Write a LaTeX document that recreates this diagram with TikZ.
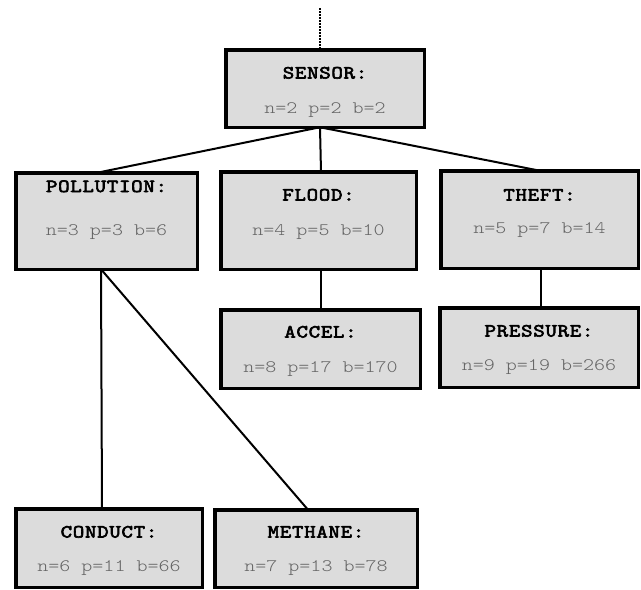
\documentclass[tikz,border=0pt]{standalone}
\usepackage{fontspec}
\newfontfamily\titlefont[FakeStretch=1.2,FakeBold=3.5,LetterSpace=4]{Latin Modern Mono}
\newfontfamily\statfont[FakeStretch=1.2]{Latin Modern Mono Light}
\definecolor{boxgray}{RGB}{220,220,220}
\definecolor{statgray}{RGB}{100,100,100}
\begin{document}
\begin{tikzpicture}[x=1pt,y=-1pt,
  box/.style={draw=black, line width=3.5pt, fill=boxgray, inner sep=0pt, outer sep=0pt},
  ttl/.style={font=\titlefont\fontsize{18.5}{19}\selectfont, anchor=base, inner sep=0pt},
  stat/.style={font=\statfont\fontsize{17.5}{18}\selectfont, text=statgray, anchor=base, inner sep=0pt},
  conn/.style={line width=2pt, black}]
\useasboundingbox (0,0) rectangle (641,590);
% boxes
\node[box, minimum width=198.5pt, minimum height=77.5pt] (sensor) at (325,88.5) {};
\node[box, minimum width=181.5pt, minimum height=96.5pt] (pollution) at (106.5,221) {};
\node[box, minimum width=195.5pt, minimum height=97.5pt] (flood) at (318.5,220.5) {};
\node[box, minimum width=197.5pt, minimum height=97.5pt] (theft) at (539.5,219.5) {};
\node[box, minimum width=199.5pt, minimum height=78.5pt] (accel) at (320.5,349) {};
\node[box, minimum width=198.5pt, minimum height=79.5pt] (pressure) at (539,347.5) {};
\node[box, minimum width=186.5pt, minimum height=78.5pt] (conduct) at (109,548) {};
\node[box, minimum width=202.5pt, minimum height=77.5pt] (methane) at (316,548.5) {};
% connectors
\coordinate (top) at (320,8);
\draw[line width=2.3pt, dash pattern=on 1.6pt off 1.4pt] (top) -- ([xshift=-5pt]sensor.north);
\draw[conn] ([xshift=-5pt]sensor.south) -- ([xshift=-9.5pt]pollution.north);
\draw[conn] ([xshift=-5pt]sensor.south) -- ([xshift=2.5pt]flood.north);
\draw[conn] ([xshift=-5pt]sensor.south) -- ([xshift=0.5pt]theft.north);
\draw[conn] ([xshift=-5.5pt]pollution.south) -- ([xshift=-7pt]conduct.north);
\draw[conn] ([xshift=-5.5pt]pollution.south) -- ([xshift=-8pt]methane.north);
\draw[conn] ([xshift=2.5pt]flood.south) -- ([xshift=0.5pt]accel.north);
\draw[conn] ([xshift=1.5pt]theft.south) -- ([xshift=2pt]pressure.north);
% texts
\node[ttl] (sensorT) at (325,78.5) {SENSOR:};
\node[stat] (sensorS) at (325,113) {n=2 p=2 b=2};
\node[ttl] (pollutionT) at (106.5,192) {POLLUTION:};
\node[stat] (pollutionS) at (106.5,235) {n=3 p=3 b=6};
\node[ttl] (floodT) at (318.5,200.5) {FLOOD:};
\node[stat] (floodS) at (318.5,235) {n=4 p=5 b=10};
\node[ttl] (theftT) at (539.5,200.5) {THEFT:};
\node[stat] (theftS) at (539.5,233) {n=5 p=7 b=14};
\node[ttl] (accelT) at (320.5,337.5) {ACCEL:};
\node[stat] (accelS) at (320.5,372) {n=8 p=17 b=170};
\node[ttl] (pressureT) at (539,336.5) {PRESSURE:};
\node[stat] (pressureS) at (539,370) {n=9 p=19 b=266};
\node[ttl] (conductT) at (109,537.5) {CONDUCT:};
\node[stat] (conductS) at (109,571) {n=6 p=11 b=66};
\node[ttl] (methaneT) at (316,537.5) {METHANE:};
\node[stat] (methaneS) at (316,571) {n=7 p=13 b=78};
\end{tikzpicture}
\end{document}
